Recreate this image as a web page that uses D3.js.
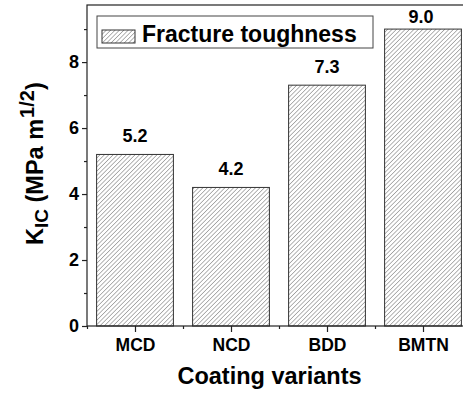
<!DOCTYPE html>
<html>
<head>
<meta charset="utf-8">
<script src="https://cdn.jsdelivr.net/npm/d3@7"></script>
<style>
  body { margin: 0; background: #fff; }
  svg { font-family: "Liberation Sans", Arial, sans-serif; font-weight: bold; }
</style>
</head>
<body>
<div id="chart"></div>
<script>
const categories = ["MCD", "NCD", "BDD", "BMTN"];
const toughness = [5.2, 4.2, 7.3, 9.0];
const valueLabels = ["5.2", "4.2", "7.3", "9.0"];
const yTicks = [0, 2, 4, 6, 8];
const yMinorTicks = [1, 3, 5, 7, 9];
const legendLabel = "Fracture toughness";

const W = 463, H = 393;
const mLeft = 87, mTop = 5, mBottom = 326;

const svg = d3.select("#chart")
  .append("svg")
    .attr("width", W)
    .attr("height", H);

// hatch pattern, thin "/" lines
const defs = svg.append("defs");
defs.append("pattern")
    .attr("id", "hatch")
    .attr("patternUnits", "userSpaceOnUse")
    .attr("width", 3.1)
    .attr("height", 3.1)
    .attr("patternTransform", "rotate(45)")
  .append("line")
    .attr("x1", 0).attr("y1", 0)
    .attr("x2", 0).attr("y2", 3.1)
    .attr("stroke", "#444")
    .attr("stroke-width", 0.8);

// categories sit at 1..4, axis runs 0.5 .. 4.5
const x = d3.scaleLinear().domain([0.5, 4.5]).range([mLeft, mLeft + 4 * 96]);
const y = d3.scaleLinear().domain([0, 9.73]).range([mBottom, mTop]);
const barW = 0.8;

svg.selectAll("rect.bar")
  .data(toughness).enter()
  .append("rect")
    .attr("class", "bar")
    .attr("x", function(d, i) { return x(i + 1 - barW / 2); })
    .attr("y", function(d) { return y(d); })
    .attr("width", function(d, i) { return x(i + 1 + barW / 2) - x(i + 1 - barW / 2); })
    .attr("height", function(d) { return y(0) - y(d); })
    .attr("fill", "url(#hatch)")
    .attr("stroke", "#333")
    .attr("stroke-width", 1);

// value labels, kept inside the frame
svg.selectAll("text.val")
  .data(toughness).enter()
  .append("text")
    .attr("class", "val")
    .attr("x", function(d, i) { return x(i + 1) - (y(d) - 12 < mTop + 18 ? 2 : 0); })
    .attr("y", function(d) { return Math.max(y(d) - 12, mTop + 18); })
    .attr("text-anchor", "middle")
    .attr("font-size", 18)
    .text(function(d, i) { return valueLabels[i]; });

// frame
svg.append("rect")
    .attr("x", mLeft)
    .attr("y", mTop)
    .attr("width", x(4.5) - mLeft)
    .attr("height", mBottom - mTop)
    .attr("fill", "none")
    .attr("stroke", "#222")
    .attr("stroke-width", 1.2);

// y axis
const yAxis = svg.append("g")
    .attr("transform", "translate(" + mLeft + ",0)")
    .call(d3.axisLeft(y).tickValues(yTicks).tickSize(5).tickPadding(3).tickFormat(d3.format("d")));
yAxis.select(".domain").remove();
yAxis.selectAll("text").attr("font-size", 18).attr("font-family", null).attr("fill", "#000");
yAxis.selectAll("line").attr("stroke", "#222").attr("stroke-width", 1.2);

const yMinor = svg.append("g")
    .attr("transform", "translate(" + mLeft + ",0)")
    .call(d3.axisLeft(y).tickValues(yMinorTicks).tickSize(3).tickFormat(""));
yMinor.select(".domain").remove();
yMinor.selectAll("line").attr("stroke", "#222").attr("stroke-width", 1.2);

// x axis
const xAxis = svg.append("g")
    .attr("transform", "translate(0," + mBottom + ")")
    .call(d3.axisBottom(x).tickValues([1, 2, 3, 4]).tickSize(6).tickPadding(7)
      .tickFormat(function(d) { return categories[d - 1]; }));
xAxis.select(".domain").remove();
xAxis.selectAll("text").attr("font-size", 17.5).attr("font-family", null).attr("fill", "#000");
xAxis.selectAll("line").attr("stroke", "#222").attr("stroke-width", 1.2);

const xMinor = svg.append("g")
    .attr("transform", "translate(0," + mBottom + ")")
    .call(d3.axisBottom(x).tickValues([0.5, 1.5, 2.5, 3.5]).tickSize(3).tickFormat(""));
xMinor.select(".domain").remove();
xMinor.selectAll("line").attr("stroke", "#222").attr("stroke-width", 1.2);

// axis titles
svg.append("text")
    .attr("x", 269.5)
    .attr("y", 384)
    .attr("text-anchor", "middle")
    .attr("font-size", 23.5)
    .text("Coating variants");

const yTitle = svg.append("text")
    .attr("transform", "translate(43,245) rotate(-90)")
    .attr("font-size", 23.5);
yTitle.append("tspan").text("K");
yTitle.append("tspan").attr("font-size", 19).attr("dy", 5).text("IC");
yTitle.append("tspan").attr("dy", -5).text(" (MPa m");
yTitle.append("tspan").attr("font-size", 20).attr("dx", 1).attr("dy", -9).text("1/2");
yTitle.append("tspan").attr("dy", 9).text(")");

// legend
const legend = svg.append("g");
legend.append("rect")
    .attr("x", 97).attr("y", 16)
    .attr("width", 276).attr("height", 32)
    .attr("fill", "#fff")
    .attr("stroke", "#444")
    .attr("stroke-width", 1);
legend.append("rect")
    .attr("x", 102).attr("y", 30)
    .attr("width", 33).attr("height", 13)
    .attr("fill", "url(#hatch)")
    .attr("stroke", "#333")
    .attr("stroke-width", 1);
legend.append("text")
    .attr("x", 142).attr("y", 42)
    .attr("font-size", 23)
    .text(legendLabel);
</script>
</body>
</html>
